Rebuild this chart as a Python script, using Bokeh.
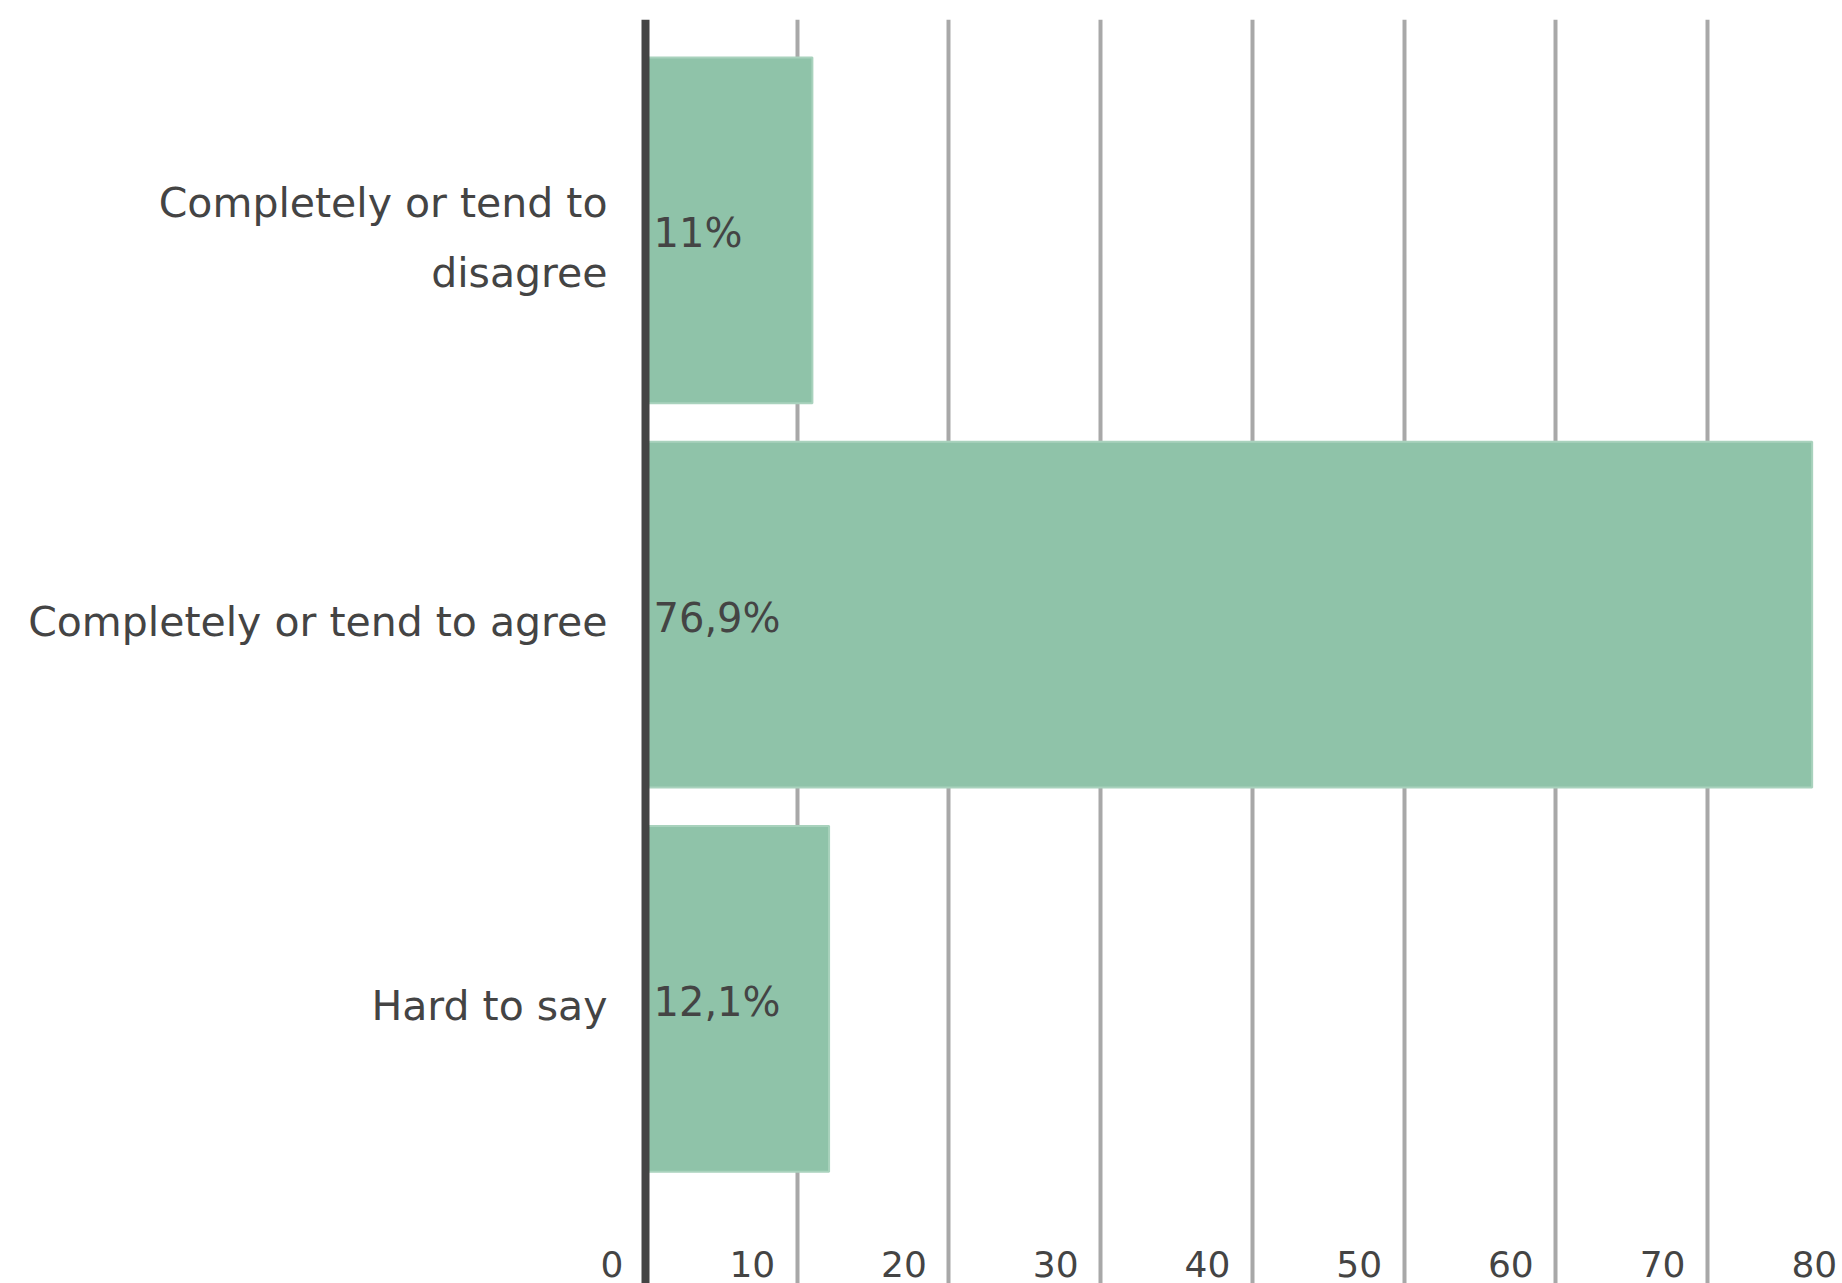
from bokeh.plotting import figure
from bokeh.models import Range1d, FixedTicker, Grid, ColumnDataSource, Span
from bokeh.core.properties import value
from bokeh.embed import file_html
from bokeh.resources import INLINE

categories = ["Completely or tend to\ndisagree", "Completely or tend to agree", "Hard to say"]
values = [11.0, 76.9, 12.1]
x_ticks = [0, 10, 20, 30, 40, 50, 60, 70, 80]
x_tick_labels = ["0", "10", "20", "30", "40", "50", "60", "70", "80"]

FONT = "DejaVu Sans"
TEXT_COLOR = "#444444"
BAR_COLOR = "#8fc3a9"

positions = list(range(len(categories)))
bar_labels = [("%g" % v).replace(".", ",") + "%" for v in values]

Y_BOTTOM, Y_TOP = 2.741, -0.549
p = figure(width=1842, height=1283, output_backend="svg", toolbar_location=None,
           x_range=Range1d(-3.626, 78.9), y_range=Range1d(Y_BOTTOM, Y_TOP),
           x_axis_location=None, min_border_left=590, min_border_right=0,
           min_border_top=19, min_border_bottom=0)
p.outline_line_color = None
p.background_fill_color = "white"
p.border_fill_color = "white"
p.xgrid.visible = False
p.ygrid.visible = False

grid = Grid(dimension=0, ticker=FixedTicker(ticks=x_ticks[1:]),
            grid_line_color="#a8a8a8", grid_line_width=4)
p.add_layout(grid)

src = ColumnDataSource(dict(y=positions, right=values, label=bar_labels))
p.hbar(y="y", left=0, right="right", height=0.9, source=src,
       fill_color=BAR_COLOR, line_color="#a9d2bd", line_width=2)

# dark zero line (value axis baseline)
p.add_layout(Span(location=x_ticks[0], dimension="height",
                  line_color="#444444", line_width=8))

p.text(x=0, y="y", text="label", source=src, x_offset=8, y_offset=3,
       text_font=value(FONT), text_font_size="40px", text_color=TEXT_COLOR,
       text_align="left", text_baseline="middle")

tick_src = ColumnDataSource(dict(x=x_ticks, y=[Y_BOTTOM] * len(x_ticks), t=x_tick_labels))
p.text(x="x", y="y", text="t", source=tick_src, x_offset=-22, y_offset=-20,
       text_font=value(FONT), text_font_size="36px", text_color=TEXT_COLOR,
       text_align="right", text_baseline="middle")

# axis labels sit slightly below the bar centres in the reference
label_shift = 0.02
label_ticks = [pos + label_shift for pos in positions]

ya = p.yaxis[0]
ya.ticker = FixedTicker(ticks=label_ticks)
ya.major_label_overrides = {t: c for t, c in zip(label_ticks, categories)}
ya.axis_line_color = None
ya.major_tick_line_color = None
ya.minor_tick_line_color = None
ya.major_tick_out = 0
ya.major_tick_in = 0
ya.major_label_standoff = -17
ya.major_label_text_font = FONT
ya.major_label_text_font_size = "41px"
ya.major_label_text_color = TEXT_COLOR
ya.major_label_text_line_height = 1.45

open("out.html", "w").write(file_html(p, INLINE))
